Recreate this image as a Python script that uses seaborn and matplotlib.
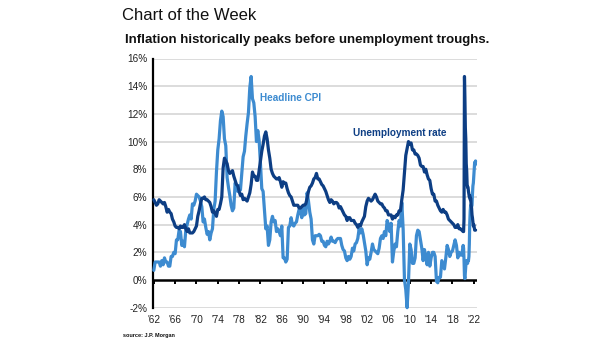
import numpy as np
import pandas as pd
import matplotlib
matplotlib.use("Agg")
import matplotlib.pyplot as plt
import seaborn as sns

# Quarterly readings (Jan/Apr/Jul/Oct) 1962-2019, then monthly 2020-2022 (%)
cpi_quarterly = [
    0.7, 1.3, 1.3, 1.3,   1.3, 1.0, 1.4, 1.1,   1.6, 1.3, 1.3, 1.0,   1.0, 1.7, 1.7, 2.0,
    1.9, 2.9, 2.9, 3.6,   3.5, 2.5, 2.8, 2.4,   3.6, 4.0, 4.4, 4.7,   4.4, 5.5, 5.4, 5.7,
    6.2, 6.1, 6.0, 5.7,   5.3, 4.2, 4.4, 3.8,   3.3, 3.5, 2.9, 3.4,   3.7, 5.1, 5.7, 7.8,
    9.4, 10.2, 11.5, 12.2, 11.8, 10.2, 9.7, 7.4, 6.7, 6.1, 5.4, 5.0,  5.2, 7.0, 6.8, 6.4,
    6.8, 6.5, 7.7, 8.9,   9.3, 10.4, 11.3, 12.1, 13.9, 14.7, 13.1, 12.8, 11.8, 10.0, 10.8, 10.1,
    8.4, 6.6, 6.4, 5.0,   3.7, 3.9, 2.5, 2.9,   4.2, 4.6, 4.2, 4.3,   3.5, 3.7, 3.5, 3.2,
    3.9, 1.6, 1.6, 1.3,   1.5, 3.8, 3.9, 4.5,   4.0, 3.9, 4.1, 4.2,   4.7, 5.1, 5.0, 4.5,
    5.2, 4.7, 4.8, 6.3,   5.7, 4.9, 4.4, 2.9,   2.6, 3.2, 3.2, 3.2,   3.3, 3.2, 2.8, 2.8,
    2.5, 2.4, 2.8, 2.6,   2.8, 3.1, 2.8, 2.8,   2.7, 2.9, 3.0, 3.0,   3.0, 2.5, 2.2, 2.1,
    1.6, 1.4, 1.7, 1.5,   1.7, 2.3, 2.1, 2.6,   2.7, 3.0, 3.7, 3.4,   3.7, 3.3, 2.7, 2.1,
    1.1, 1.6, 1.5, 2.0,   2.6, 2.2, 2.1, 2.0,   1.9, 2.3, 3.0, 3.2,   3.0, 3.5, 3.2, 4.3,
    4.0, 3.5, 4.1, 1.3,   2.1, 2.6, 2.4, 3.5,   4.3, 3.9, 5.6, 3.7,   0.0, -0.7, -2.0, -0.2,
    2.6, 2.2, 1.2, 1.2,   1.6, 3.2, 3.6, 3.5,   2.9, 2.3, 1.4, 2.2,   1.6, 1.1, 2.0, 1.0,
    1.6, 2.0, 2.0, 1.7,  -0.1, -0.2, 0.2, 0.2,  1.4, 1.1, 0.8, 1.6,   2.5, 2.2, 1.7, 2.0,
    2.1, 2.5, 2.9, 2.5,   1.6, 2.0, 1.8, 1.8,
]
cpi_monthly = [
    2.5, 2.3, 1.5, 0.3, 0.1, 0.6, 1.0, 1.3, 1.4, 1.2, 1.2, 1.4,
    1.4, 1.7, 2.6, 4.2, 5.0, 5.4, 5.4, 5.3, 5.4, 6.2, 6.8, 7.0,
    7.5, 7.9, 8.5, 8.3, 8.6,
]

unemp_quarterly = [
    5.8, 5.6, 5.4, 5.5,   5.8, 5.7, 5.6, 5.5,   5.6, 5.3, 4.9, 5.1,   4.9, 4.8, 4.4, 4.2,
    3.9, 3.8, 3.8, 3.7,   3.9, 3.8, 3.8, 4.0,   3.7, 3.5, 3.7, 3.4,   3.4, 3.4, 3.5, 3.7,
    3.9, 4.6, 5.0, 5.5,   5.9, 5.9, 6.0, 5.8,   5.8, 5.7, 5.6, 5.3,   4.9, 5.0, 4.8, 4.6,
    5.1, 5.1, 5.5, 6.0,   8.1, 8.8, 8.6, 8.4,   7.9, 7.7, 7.8, 7.9,   7.5, 7.2, 6.9, 6.8,
    6.4, 6.1, 6.2, 5.8,   5.9, 5.8, 5.7, 6.0,   6.3, 6.9, 7.8, 7.5,   7.5, 7.2, 7.2, 7.9,
    8.6, 9.3, 9.8, 10.4,  10.7, 10.2, 9.4, 8.8,  8.0, 7.7, 7.5, 7.4,   7.3, 7.3, 7.4, 7.1,
    6.7, 7.1, 7.0, 7.0,   6.6, 6.3, 6.1, 6.0,   5.7, 5.4, 5.4, 5.4,   5.4, 5.2, 5.2, 5.3,
    5.4, 5.4, 5.5, 5.9,   6.4, 6.7, 6.8, 7.0,   7.3, 7.4, 7.7, 7.3,   7.3, 7.1, 6.9, 6.8,
    6.6, 6.4, 6.1, 5.8,   5.6, 5.8, 5.7, 5.5,   5.6, 5.6, 5.5, 5.2,   5.3, 5.1, 4.9, 4.7,
    4.6, 4.3, 4.5, 4.5,   4.3, 4.3, 4.3, 4.1,   4.0, 3.8, 4.0, 3.9,   4.2, 4.4, 4.6, 5.3,
    5.7, 5.9, 5.8, 5.7,   5.8, 6.0, 6.2, 6.0,   5.7, 5.6, 5.5, 5.5,   5.3, 5.2, 5.0, 5.0,
    4.7, 4.7, 4.7, 4.4,   4.6, 4.5, 4.7, 4.7,   5.0, 5.0, 5.8, 6.5,   7.8, 9.0, 9.5, 10.0,
    9.8, 9.9, 9.4, 9.4,   9.1, 9.1, 9.0, 8.8,   8.3, 8.2, 8.2, 7.8,   8.0, 7.6, 7.3, 7.2,
    6.6, 6.2, 6.2, 5.7,   5.7, 5.4, 5.2, 5.0,   4.9, 5.1, 4.9, 4.9,   4.7, 4.4, 4.3, 4.2,
    4.1, 4.0, 3.8, 3.8,   4.0, 3.7, 3.7, 3.6,
]
unemp_monthly = [
    3.5, 3.5, 4.4, 14.7, 13.2, 11.0, 10.2, 8.4, 7.9, 6.9, 6.7, 6.7,
    6.4, 6.2, 6.0, 6.1, 5.8, 5.9, 5.4, 5.2, 4.7, 4.5, 4.2, 3.9,
    4.0, 3.8, 3.6, 3.6, 3.6,
]

year_ticks = list(range(1962, 2023, 4))
y_ticks = list(range(-2, 17, 2))

def build_dates(quarterly, monthly):
    dq = pd.date_range("1962-01-01", periods=len(quarterly), freq="QS")
    dm = pd.date_range("2020-01-01", periods=len(monthly), freq="MS")
    dates = dq.append(dm)
    dec = dates.year + (dates.dayofyear - 1) / 365.25
    return np.asarray(dec), list(quarterly) + list(monthly)

x_cpi, v_cpi = build_dates(cpi_quarterly, cpi_monthly)
x_un, v_un = build_dates(unemp_quarterly, unemp_monthly)
df = pd.concat([
    pd.DataFrame({"year": x_cpi, "value": v_cpi, "series": "Headline CPI"}),
    pd.DataFrame({"year": x_un, "value": v_un, "series": "Unemployment rate"}),
])

sns.set_theme(style="white")
plt.rcParams["font.family"] = ["Liberation Sans", "DejaVu Sans"]

CPI_C = "#3d8bd0"
UN_C = "#0d3e84"

fig = plt.figure(figsize=(6.05, 3.41), dpi=100)
ax = fig.add_axes([153 / 605, 1 - 307.7 / 341, (477 - 153) / 605, (307.7 - 58.5) / 341])

sns.lineplot(data=df, x="year", y="value", hue="series",
             palette={"Headline CPI": CPI_C, "Unemployment rate": UN_C},
             linewidth=2.3, legend=False, ax=ax, clip_on=False, zorder=3)

ax.set_xlim(1961.85, 2022.6)
ax.set_ylim(-2, 16)
ax.set_yticks(y_ticks)
ax.set_yticklabels([f"{v}%" for v in y_ticks])
ax.set_xticks(year_ticks)
ax.set_xticklabels([f"'{str(y)[2:]}" for y in year_ticks])
ax.set_xlabel("")
ax.set_ylabel("")
ax.tick_params(axis="both", length=0, labelsize=7.2, colors="#222222", pad=4)
ax.tick_params(axis="x", pad=5)

for v in y_ticks:
    if v != 0:
        ax.axhline(v, color="#dcdcdc", linewidth=1.4, zorder=1)
ax.axhline(0, color="black", linewidth=1.8, zorder=2)

for s in ["top", "right", "bottom"]:
    ax.spines[s].set_visible(False)
ax.spines["left"].set_color("black")
ax.spines["left"].set_linewidth(1.6)

# small tick marks hanging from the zero line
sec = ax.secondary_xaxis(2 / 18)
sec.set_xticks(year_ticks)
sec.tick_params(axis="x", length=3, width=1.4, color="black", labelbottom=False, direction="out")
sec.spines["bottom"].set_visible(False)
sec.set_xticklabels([])

ax.text(1982.0, 13.17, "Headline CPI", color=CPI_C, fontsize=7.2, fontweight="bold", va="center")
ax.text(1999.4, 10.64, "Unemployment rate", color=UN_C, fontsize=7.2, fontweight="bold", va="center")

fig.text(122 / 605, 1 - 15 / 341, "Chart of the Week", fontsize=12, color="#111111",
         va="center", ha="left")
fig.text(125 / 605, 1 - 40 / 341, "Inflation historically peaks before unemployment troughs.",
         fontsize=9.5, fontweight="bold", color="#111111", va="center", ha="left")
fig.text(123 / 605, 1 - 335 / 341, "source: J.P. Morgan", fontsize=4, fontweight="bold",
         color="#111111", va="center", ha="left")

fig.savefig("out.png", dpi=100)
